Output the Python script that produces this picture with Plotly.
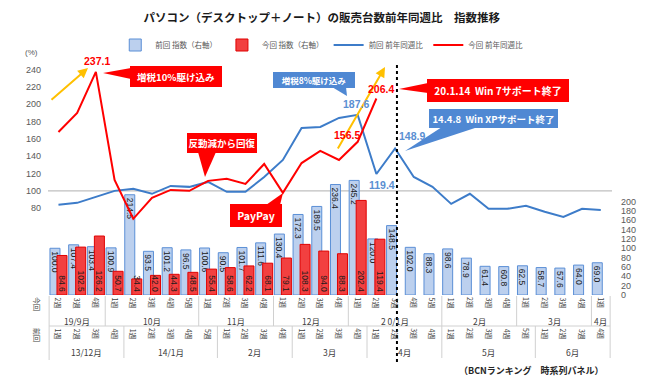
import plotly.graph_objects as go

FONT = "Noto Sans CJK JP"
NUMFONT = "Liberation Sans"

# ---------------- data ----------------
cur_weeks = ["2週", "3週", "4週", "1週", "2週", "3週", "4週", "5週", "1週", "2週",
             "3週", "4週", "1週", "2週", "3週", "4週", "1週", "2週", "3週", "4週",
             "5週", "1週", "2週", "3週", "4週", "1週", "2週", "3週", "4週", "1週"]
cur_months = ["19/9月", "10月", "11月", "12月", "2 0/1月", "2月", "3月", "4月"]
cur_month_spans = [3, 5, 4, 4, 5, 4, 4, 1]

prev_weeks = ["1週", "2週", "3週", "4週", "1週", "2週", "3週", "4週", "5週", "1週",
              "2週", "3週", "4週", "1週", "2週", "3週", "4週", "1週", "2週", "3週",
              "4週", "1週", "2週", "3週", "4週", "5週", "1週", "2週", "3週", "4週"]
prev_months = ["13/12月", "14/1月", "2月", "3月", "4月", "5月", "6月"]
prev_month_spans = [4, 5, 4, 4, 4, 5, 4]

prev_index = [100.0, 107.4, 103.4, 100.9, 214.5, 93.5, 101.2, 96.5, 100.6, 90.5,
              101.7, 111.6, 130.4, 172.3, 189.5, 236.4, 245.2, 120.0, 148.5, 102.0,
              88.3, 98.6, 78.9, 61.4, 60.8, 62.5, 58.7, 57.6, 64.0, 69.0]
cur_index = [84.6, 102.5, 126.2, 50.7, 34.4, 42.0, 44.3, 48.5, 55.4, 58.6,
             62.2, 68.1, 79.1, 108.3, 94.0, 88.3, 202.4, 119.4]

prev_yoy = [83.9, 86.2, 93.1, 100.0, 102.3, 96.6, 105.7, 104.6, 110.3, 98.9,
            98.9, 116.0, 135.6, 172.4, 173.6, 184.0, 187.6, 119.4, 148.9, 116.0,
            104.6, 85.0, 96.6, 79.3, 79.3, 82.8, 75.9, 70.0, 79.3, 78.0]
cur_yoy = [167.8, 189.7, 237.1, 112.6, 67.8, 92.0, 101.1, 100.0, 111.5, 113.8,
           108.0, 131.0, 97.7, 132.0, 146.0, 135.6, 156.5, 206.4]

left_ticks = [80, 100, 120, 140, 160, 180, 200, 220, 240]
right_ticks = [0, 20, 40, 60, 80, 100, 120, 140, 160, 180, 200]

xs_prev = list(range(len(prev_index)))
xs_cur = list(range(len(cur_index)))

# ---------------- geometry helpers ----------------
W_FIG, H_FIG = 650, 387
L, R, T, B = 48, 612, 52, 295
PW, PH = R - L, B - T


def px(X):
    return (X - L) / PW


def py(Y):
    return (B - Y) / PH


BLUE_LINE = "#3d7cc9"
RED = "#ff0000"
BLUE_LBL = "#5a8fd2"
BLUE_BOX = "#4f88d3"

fig = go.Figure()

fig.add_trace(go.Bar(
    x=xs_prev, y=prev_index, name="前回 指数（右軸）", yaxis="y",
    offset=-0.455, width=0.535,
    marker=dict(color="#bcd0ee", line=dict(color="#5b8fd6", width=1)),
    text=[f"{v:.1f}" for v in prev_index], textposition="inside",
    insidetextanchor="end", textangle=90, constraintext="none",
    textfont=dict(size=8.5, color="#1a1a1a", family=NUMFONT),
    hoverinfo="skip"))
fig.add_trace(go.Bar(
    x=xs_cur, y=cur_index, name="今回 指数（右軸）", yaxis="y",
    offset=-0.08, width=0.535,
    marker=dict(color="#f24040", line=dict(color="#e00000", width=1)),
    text=[f"{v:.1f}" for v in cur_index], textposition="inside",
    insidetextanchor="start", textangle=90, constraintext="none",
    textfont=dict(size=8.5, color="#1a1a1a", family=NUMFONT),
    hoverinfo="skip"))
fig.add_trace(go.Scatter(
    x=xs_prev, y=prev_yoy, name="前回 前年同週比", yaxis="y2", mode="lines",
    line=dict(color=BLUE_LINE, width=2), hoverinfo="skip"))
fig.add_trace(go.Scatter(
    x=xs_cur, y=cur_yoy, name="今回 前年同週比", yaxis="y2", mode="lines",
    line=dict(color=RED, width=2), hoverinfo="skip"))

shapes = []
annotations = []


def note(**kw):
    kw.setdefault("xanchor", "center")
    kw.setdefault("yanchor", "middle")
    kw.setdefault("showarrow", False)
    annotations.append(kw)


# 100 reference line
shapes.append(dict(type="line", xref="paper", yref="y2", x0=0, x1=1, y0=100, y1=100,
                   line=dict(color="#bfbfbf", width=1.2), layer="below"))

# category table lines
GRID = "#d0d0d0"
n = len(cur_weeks)
shapes.append(dict(type="line", xref="x", yref="paper", x0=-0.5, x1=n - 0.5,
                   y0=py(326), y1=py(326), line=dict(color=GRID, width=1)))
shapes.append(dict(type="line", xref="x", yref="paper", x0=-0.5, x1=-0.5,
                   y0=py(296), y1=py(360), line=dict(color=GRID, width=1)))
s = 0
for span in cur_month_spans:
    s += span
    shapes.append(dict(type="line", xref="x", yref="paper", x0=s - 0.5, x1=s - 0.5,
                       y0=py(296), y1=py(326), line=dict(color=GRID, width=1)))
s = 0
for span in prev_month_spans:
    s += span
    shapes.append(dict(type="line", xref="x", yref="paper", x0=s - 0.5, x1=s - 0.5,
                       y0=py(326), y1=py(358), line=dict(color=GRID, width=1)))

# week labels
for i, w in enumerate(cur_weeks):
    note(x=i, y=py(303), xref="x", yref="paper", text=w, textangle=90,
         font=dict(size=7, color="#404040", family=FONT))
for i, w in enumerate(prev_weeks):
    note(x=i, y=py(334), xref="x", yref="paper", text=w, textangle=90,
         font=dict(size=7, color="#404040", family=FONT))
# month labels
s = 0
for m, span in zip(cur_months, cur_month_spans):
    note(x=s + (span - 1) / 2, y=py(321), xref="x", yref="paper", text=m,
         font=dict(size=8.5, color="#404040", family=FONT))
    s += span
s = 0
for m, span in zip(prev_months, prev_month_spans):
    note(x=s + (span - 1) / 2, y=py(352), xref="x", yref="paper", text=m,
         font=dict(size=8.5, color="#404040", family=FONT))
    s += span

# row headers
note(x=px(37), y=py(304), xref="paper", yref="paper", text="今回", textangle=90,
     font=dict(size=7, color="#404040", family=FONT))
note(x=px(37), y=py(335), xref="paper", yref="paper", text="前回", textangle=90,
     font=dict(size=7, color="#404040", family=FONT))

# (%) label
note(x=px(31), y=py(52), xref="paper", yref="paper", text="(%)",
     font=dict(size=8, color="#595959", family=NUMFONT))

# dotted divider
shapes.append(dict(type="line", xref="x", yref="paper", x0=18.1, x1=18.1,
                   y0=py(362), y1=py(63), line=dict(color="#000000", width=2, dash="dot")))


# callout boxes
def box(cx, cy, w, h, text, color, size):
    note(x=px(cx), y=py(cy), xref="paper", yref="paper",
         text=f"<b>{text}</b>", width=w, height=h,
         bgcolor=color, borderpad=0, borderwidth=0,
         font=dict(size=size, color="white", family=FONT))


def wedge(pts, color):
    path = "M " + " L ".join(f"{px(a)},{py(b)}" for a, b in pts) + " Z"
    shapes.append(dict(type="path", xref="paper", yref="paper", path=path,
                       fillcolor=color, line=dict(width=0)))


wedge([(103, 73), (131, 68), (131, 79)], RED)
box(176, 76.5, 92, 21, "増税10%駆け込み", RED, 9.5)

wedge([(205, 177), (198, 152), (216, 152)], RED)
box(221.5, 143, 70, 20, "反動減から回復", RED, 9.5)

wedge([(283, 193), (266, 205), (280, 205)], RED)
box(256, 215.5, 52, 23, "PayPay", RED, 10.5)

wedge([(347, 96), (332, 87), (346, 87)], BLUE_BOX)
box(314, 80, 82, 16, "増税8%駆け込み", BLUE_BOX, 8.5)

wedge([(399, 89), (428, 83), (428, 93)], RED)
box(498, 90.5, 142, 23, "20.1.14  Win 7サポート終了", RED, 10)

wedge([(405, 151), (442, 127), (478, 127)], BLUE_BOX)
box(493.5, 118.5, 129, 19, "14.4.8  Win XPサポート終了", BLUE_BOX, 9.5)

# orange arrows
for tip, tail in [((88, 68), (50, 101)), ((385, 67), (337, 150))]:
    annotations.append(dict(x=px(tip[0]), y=py(tip[1]), xref="paper", yref="paper",
                            ax=tail[0] - tip[0], ay=tail[1] - tip[1], text="",
                            showarrow=True, arrowhead=2, arrowsize=1, arrowwidth=2,
                            arrowcolor="#ffc000"))


# value labels on lines
def vlabel(series, i, color, xs_, ys_):
    note(x=i, y=series[i], xref="x", yref="y2",
         text=f"<b>{series[i]:.1f}</b>", xshift=xs_, yshift=ys_,
         font=dict(size=10.5, color=color, family=NUMFONT))


vlabel(cur_yoy, 2, RED, 1, 11)
vlabel(prev_yoy, 16, BLUE_LBL, -2, 11)
vlabel(cur_yoy, 17, RED, 5, 10)
vlabel(cur_yoy, 16, RED, -11, 7)
vlabel(prev_yoy, 17, BLUE_LBL, 6, -11)
vlabel(prev_yoy, 18, BLUE_LBL, 17, 12)

# source
note(x=px(531), y=py(370), xref="paper", yref="paper",
     text="<b>（BCNランキング　時系列パネル）</b>",
     font=dict(size=9, color="#262626", family=FONT))

fig.update_layout(
    width=W_FIG, height=H_FIG,
    margin=dict(l=L, r=W_FIG - R, t=T, b=H_FIG - B, autoexpand=False),
    paper_bgcolor="white", plot_bgcolor="white",
    barmode="overlay",
    title=dict(text="<b>パソコン（デスクトップ＋ノート）の販売台数前年同週比　指数推移</b>",
               x=0.495, xref="container", xanchor="center",
               y=1 - 18 / H_FIG, yref="container", yanchor="middle",
               font=dict(size=11.5, color="#1a1a1a", family=FONT)),
    legend=dict(orientation="h", x=0.495, xref="container", xanchor="center",
                y=1 - 45 / H_FIG, yref="container", yanchor="middle",
                font=dict(size=7.5, color="#595959", family=FONT),
                bgcolor="rgba(0,0,0,0)", itemwidth=30, tracegroupgap=0),
    xaxis=dict(range=[-0.56, 29.6], showticklabels=False, showgrid=False,
               zeroline=False, showline=False, ticks=""),
    yaxis=dict(side="right", range=[0, 520], tickvals=right_ticks, showgrid=False,
               zeroline=False, showline=False, ticks="", ticklabelstandoff=8,
               tickfont=dict(size=9, color="#595959", family=NUMFONT), automargin=False),
    yaxis2=dict(side="left", overlaying="y", range=[-20, 260], tickvals=left_ticks,
                showgrid=False, zeroline=False, showline=False, ticks="",
                ticklabelstandoff=6,
                tickfont=dict(size=9, color="#595959", family=NUMFONT), automargin=False),
    shapes=shapes, annotations=annotations,
    showlegend=True,
)

fig.write_html("out.html", config={"displayModeBar": False},
               post_script="document.body.style.margin='0px';document.body.style.overflow='hidden';")
